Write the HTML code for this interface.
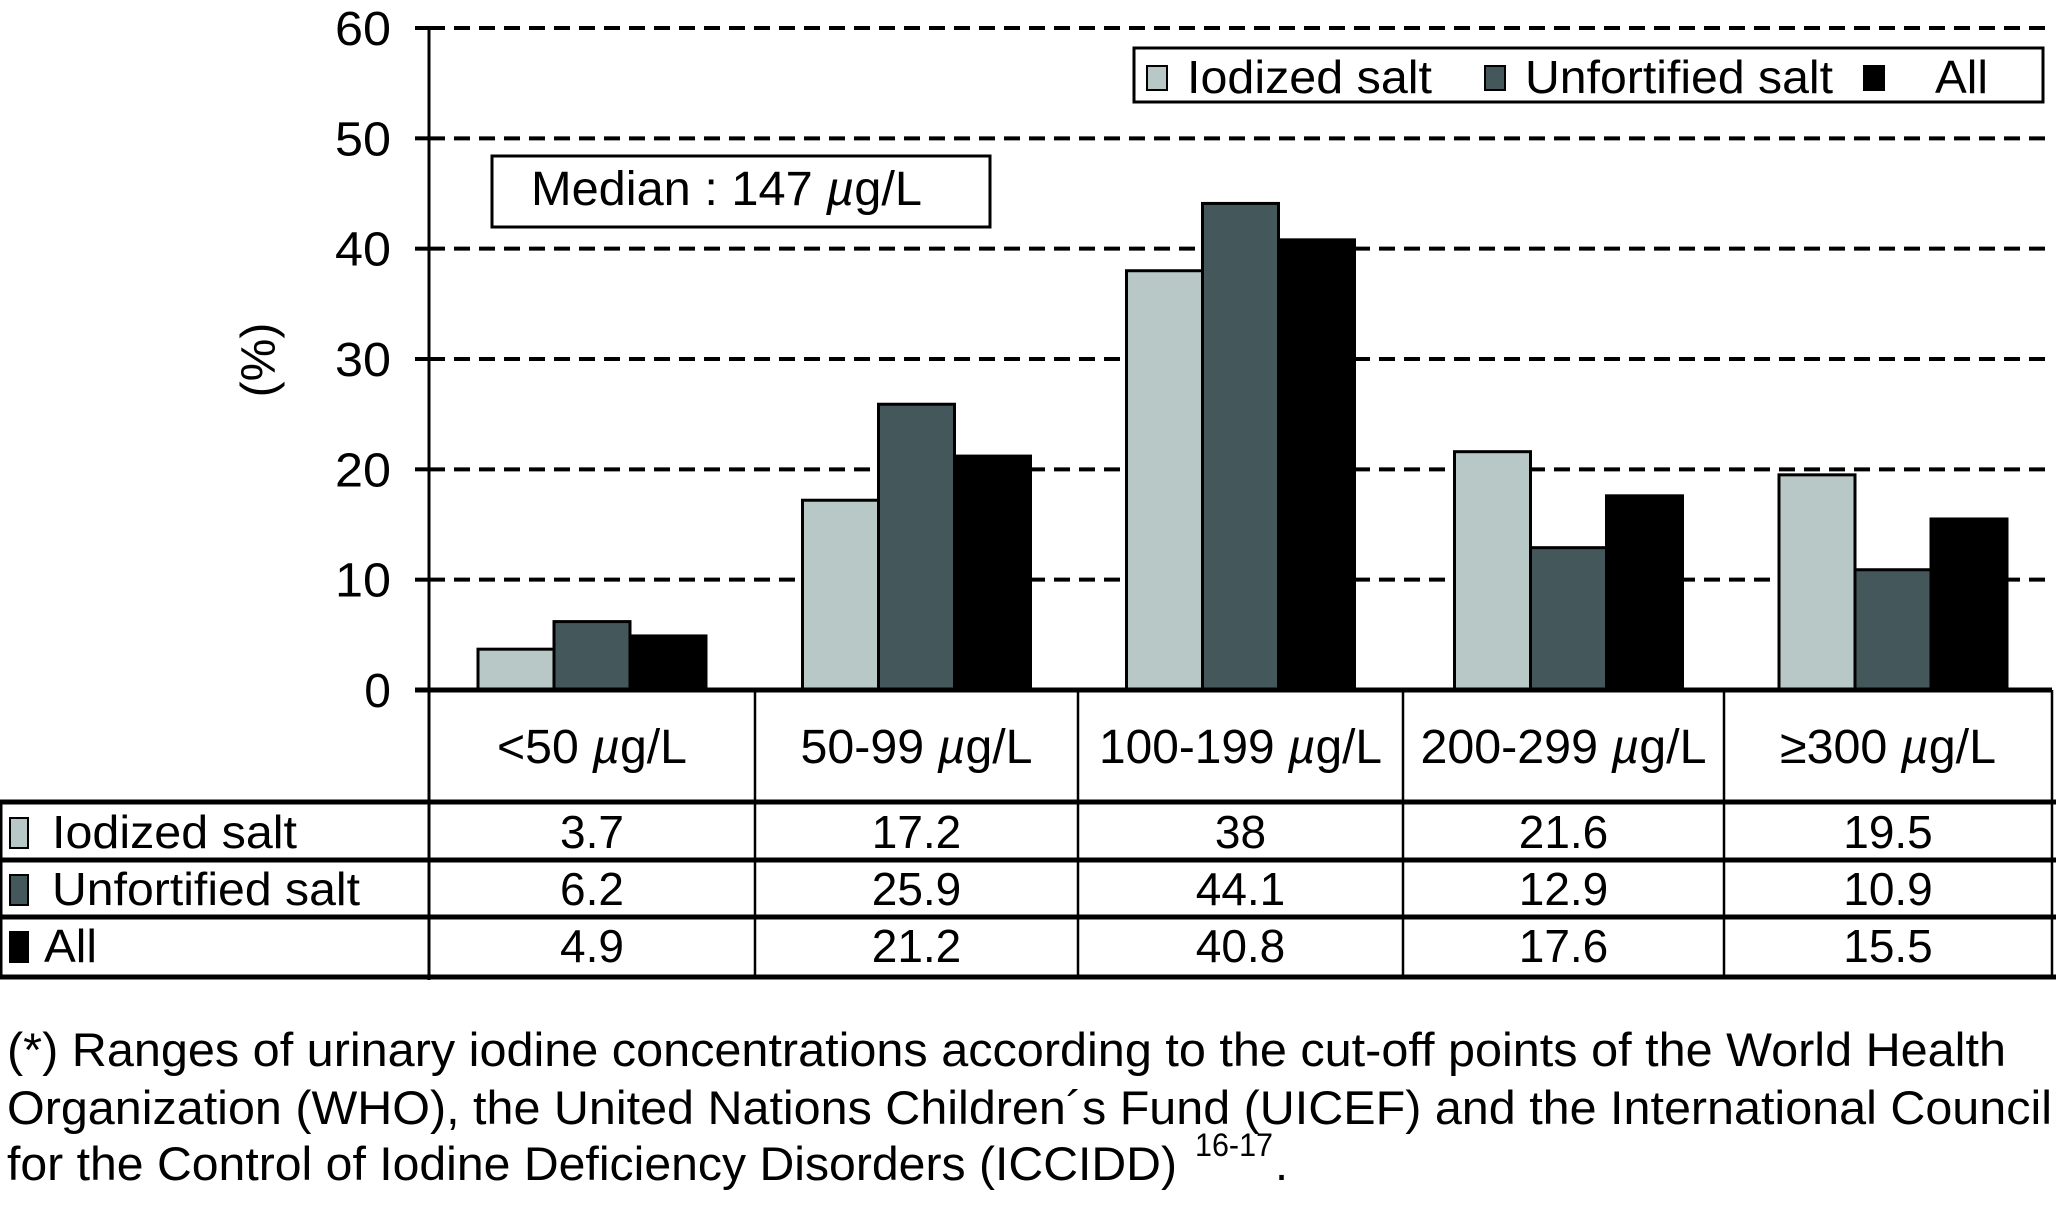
<!DOCTYPE html>
<html><head><meta charset="utf-8"><style>
html,body{margin:0;padding:0;background:#fff;}
svg{display:block;font-family:"Liberation Sans",Arial,sans-serif;}
</style></head><body>
<svg id="chart" width="2056" height="1208" viewBox="0 0 2056 1208">
<g id="grid"></g>
<g id="bars"></g>
<line x1="429" y1="26" x2="429" y2="980" stroke="#000" stroke-width="3"/>
<text x="262" y="360" font-size="48" text-anchor="middle" transform="rotate(-90 262 360)" dominant-baseline="middle">(%)</text>
<g>
<rect x="1134" y="48" width="909" height="54" fill="#fff" stroke="#000" stroke-width="3"/>
<rect x="1147" y="66" width="20" height="24" fill="#b8c8c6" stroke="#000" stroke-width="2"/>
<text x="1187" y="93" font-size="46" textLength="245" lengthAdjust="spacingAndGlyphs">Iodized salt</text>
<rect x="1485" y="66" width="20" height="24" fill="#44575a" stroke="#000" stroke-width="2"/>
<text x="1525" y="93" font-size="46" textLength="308" lengthAdjust="spacingAndGlyphs">Unfortified salt</text>
<rect x="1864" y="66" width="20" height="24" fill="#000" stroke="#000" stroke-width="2"/>
<text x="1935" y="93" font-size="46" textLength="53" lengthAdjust="spacingAndGlyphs">All</text>
</g>
<rect x="492" y="156" width="498" height="71" fill="#fff" stroke="#000" stroke-width="3"/>
<text x="531" y="205" font-size="48" textLength="391" lengthAdjust="spacingAndGlyphs">Median : 147 <tspan font-style="italic">µ</tspan>g/L</text>
<g id="table"></g>
<g font-size="47">
<text x="7" y="1066" textLength="1999" lengthAdjust="spacingAndGlyphs">(*) Ranges of urinary iodine concentrations according to the cut-off points of the World Health</text>
<text x="7" y="1124" textLength="2045" lengthAdjust="spacingAndGlyphs">Organization (WHO), the United Nations Children´s Fund (UICEF) and the International Council</text>
<text x="7" y="1180" textLength="1170" lengthAdjust="spacingAndGlyphs">for the Control of Iodine Deficiency Disorders (ICCIDD)</text>
<text x="1195" y="1156" font-size="32" textLength="78" lengthAdjust="spacingAndGlyphs">16-17</text>
<text x="1275" y="1180">.</text>
</g>
</svg>
<script>
const categories = ["<50 µg/L","50-99 µg/L","100-199 µg/L","200-299 µg/L","≥300 µg/L"];
const seriesNames = ["Iodized salt","Unfortified salt","All"];
const iodized = [3.7,17.2,38,21.6,19.5];
const unfortified = [6.2,25.9,44.1,12.9,10.9];
const all = [4.9,21.2,40.8,17.6,15.5];
const yTicks = [0,10,20,30,40,50,60];

const NS="http://www.w3.org/2000/svg";
const y0=690, y60=28, xAxis=429;
const colEdges=[429,755,1078,1403,1724,2052];
const colors=["#b8c8c6","#44575a","#000"];
const series=[iodized,unfortified,all];
function yScale(v){return y0-(v/60)*(y0-y60);}
function mk(tag,attrs,parent){const e=document.createElementNS(NS,tag);for(const k in attrs)e.setAttribute(k,attrs[k]);parent.appendChild(e);return e;}
const grid=document.getElementById('grid');
yTicks.forEach(t=>{
  const y=yScale(t);
  if(t>0){const l=mk('line',{x1:xAxis,y1:y,x2:2048,y2:y,stroke:'#000','stroke-width':4,'stroke-dasharray':'16 9'},grid);
  
  }
  const tk=mk('line',{x1:xAxis-14,y1:y,x2:xAxis,y2:y,stroke:'#000','stroke-width':4},grid);
  
  
  const attrs={x:391,y:y+17,'font-size':48,'text-anchor':'end'};
  if(t>0){attrs.textLength=56;attrs.lengthAdjust='spacingAndGlyphs';}
  const tx=mk('text',attrs,grid);
  tx.textContent=t;
  
  
});
const bars=document.getElementById('bars');
const bw=76;
categories.forEach((c,i)=>{
  const cx=(colEdges[i]+colEdges[i+1])/2+ (i>=3?5:0);
  const start=cx-bw*1.5;
  series.forEach((s,j)=>{
    const y=yScale(s[i]);
    const r=mk('rect',{x:start+j*bw,y:y,width:bw,height:y0-y,fill:colors[j],stroke:'#000','stroke-width':3},bars);
    
    
  });
});
mk('line',{x1:xAxis-14,y1:y0,x2:2052,y2:y0,stroke:'#000','stroke-width':5},bars);
const tb=document.getElementById('table');
const rowsY=[802,860,917,977];
colEdges.forEach((x,i)=>{
  const l=mk('line',{x1:x,y1:y0,x2:x,y2:979,stroke:'#000','stroke-width':i==0?3:2.5},tb);
  
  
});
rowsY.forEach(y=>{
  const l=mk('line',{x1:0,y1:y,x2:2056,y2:y,stroke:'#000','stroke-width':5},tb);
  
  
});
mk('line',{x1:1,y1:802,x2:1,y2:979,stroke:'#000','stroke-width':3},tb);
const catLen=[190,232,283,286,216];
categories.forEach((c,i)=>{
  const cx=(colEdges[i]+colEdges[i+1])/2;
  const t=mk('text',{x:cx,y:763,'font-size':48,'text-anchor':'middle',textLength:catLen[i],lengthAdjust:'spacingAndGlyphs'},tb);
  const parts=c.split('µ');
  t.appendChild(document.createTextNode(parts[0]));
  const it=mk('tspan',{'font-style':'italic'},t);it.textContent='µ';
  t.appendChild(document.createTextNode(parts[1]));
  
  
});
const rowBase=[848,905,962];
const labelLen=[245,308,53];
series.forEach((s,j)=>{
  const sq=mk('rect',{x:10,y:rowBase[j]-30,width:18,height:30,fill:colors[j],stroke:'#000','stroke-width':2},tb);
  
  
  const lb=mk('text',{x:j==2?44:52,y:rowBase[j],'font-size':46,textLength:labelLen[j],lengthAdjust:'spacingAndGlyphs'},tb);
  lb.textContent=seriesNames[j];
  
  
  s.forEach((v,i)=>{
    const cx=(colEdges[i]+colEdges[i+1])/2;
    const t=mk('text',{x:cx,y:rowBase[j],'font-size':46,'text-anchor':'middle'},tb);
    t.textContent=v;
    
    
  });
});
</script>
</body></html>
